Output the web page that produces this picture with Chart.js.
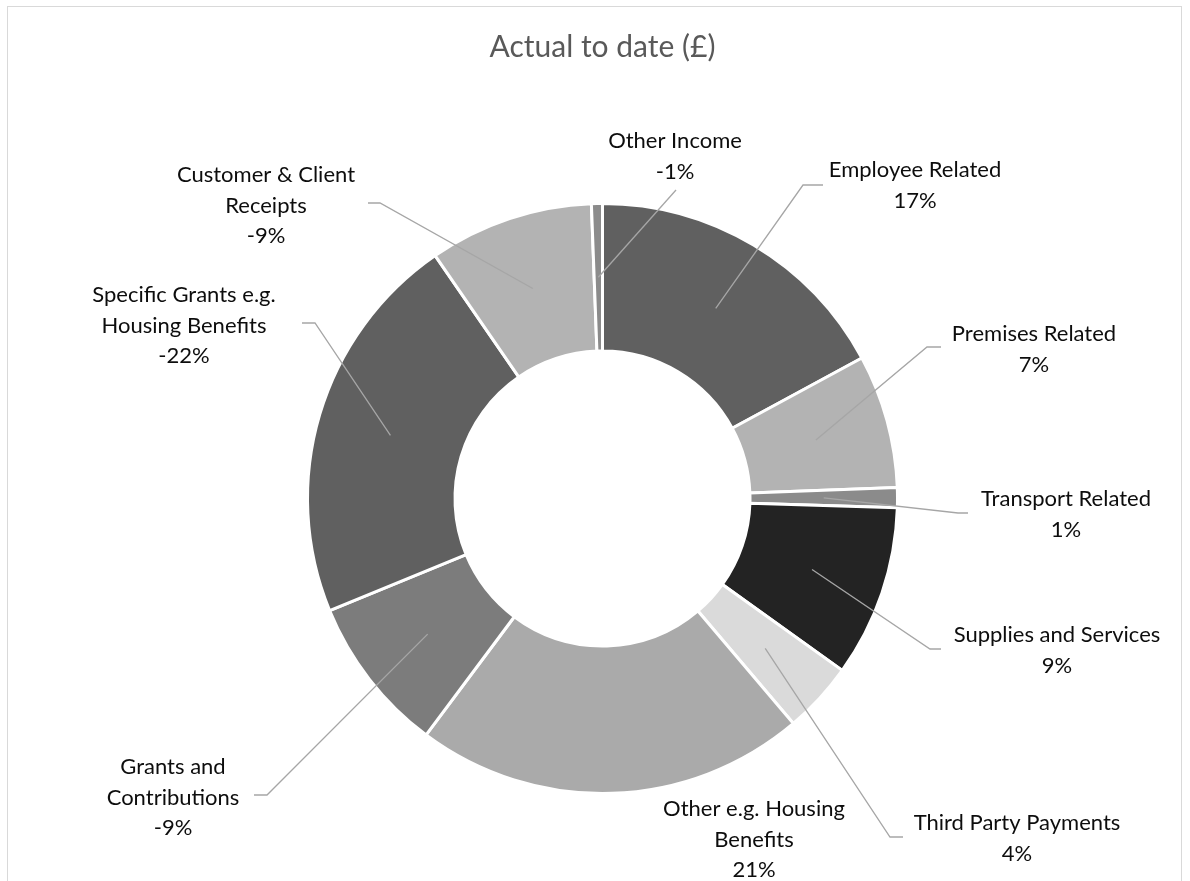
<!DOCTYPE html>
<html>
<head>
<meta charset="utf-8">
<title>Actual to date (£)</title>
<script src="https://cdn.jsdelivr.net/npm/chart.js@4.4.1/dist/chart.umd.min.js"></script>
<style>
  html, body { margin: 0; padding: 0; background: #fff; }
  #wrap { position: relative; width: 1190px; height: 881px; overflow: hidden; }
  #frame { position: absolute; left: 7px; top: 6px; width: 1173px; height: 900px; border: 1px solid #d9d9d9; pointer-events: none; }
  canvas { position: absolute; left: 0; top: 0; }
</style>
</head>
<body>
<div id="wrap">
  <canvas id="graficoRosca" width="1190" height="881"></canvas>
  <div id="frame"></div>
</div>
<script>
// Categorias e valores (percentual do total, negativos = receitas)
const categorias = [
  'Employee Related', 'Premises Related', 'Transport Related', 'Supplies and Services',
  'Third Party Payments', 'Other e.g. Housing Benefits', 'Grants and Contributions',
  'Specific Grants e.g. Housing Benefits', 'Customer & Client Receipts', 'Other Income'
];
const valores = [17.1, 7.3, 1.1, 9.4, 3.9, 21.4, -8.6, -21.6, -9.0, -0.6];

// Quebras de linha dos rótulos
const linhasRotulo = [
  ['Employee Related'],
  ['Premises Related'],
  ['Transport Related'],
  ['Supplies and Services'],
  ['Third Party Payments'],
  ['Other e.g. Housing', 'Benefits'],
  ['Grants and', 'Contributions'],
  ['Specific Grants e.g.', 'Housing Benefits'],
  ['Customer & Client', 'Receipts'],
  ['Other Income']
];

const coresFatias = [
  '#606060', '#b3b3b3', '#8b8b8b', '#232323', '#dadada',
  '#aaaaaa', '#7c7c7c', '#606060', '#b3b3b3', '#8b8b8b'
];

// Posição dos rótulos: centro x, y da primeira linha, linha guia [cotovelo x, fim x, y]
const posRotulos = [
  { x: 915, y: 169, guia: [803, 823, 185] },
  { x: 1034, y: 333, guia: [927, 941, 347] },
  { x: 1066, y: 498, guia: [958, 968, 513] },
  { x: 1057, y: 634, guia: [930, 941, 649] },
  { x: 1017, y: 822, guia: [890, 903, 837] },
  { x: 754, y: 808, guia: null },
  { x: 173, y: 766, guia: [267, 254, 795] },
  { x: 184, y: 294, guia: [315, 302, 323] },
  { x: 266, y: 174, guia: [380, 368, 203] },
  { x: 675, y: 140, guia: [676, 676, 190] }
];

const total = valores.reduce((s, v) => s + Math.abs(v), 0);
const percentual = v => (v < 0 ? '-' : '') + Math.round(Math.abs(v) / total * 100) + '%';

// Rótulos com linhas guia
const pluginRotulos = {
  id: 'rotulos',
  afterDatasetsDraw(chart) {
    const ctx = chart.ctx;
    const arcos = chart.getDatasetMeta(0).data;
    ctx.save();
    ctx.strokeStyle = '#a6a6a6';
    ctx.lineWidth = 1.3;
    arcos.forEach((arco, i) => {
      const p = posRotulos[i];
      if (!p.guia) return;
      const inicio = arco.tooltipPosition();
      const [cx, fx, gy] = p.guia;
      ctx.beginPath();
      ctx.moveTo(inicio.x, inicio.y);
      ctx.lineTo(cx, gy);
      if (fx !== cx) ctx.lineTo(fx, gy);
      ctx.stroke();
    });

    ctx.fillStyle = '#0d0d0d';
    ctx.font = '22px Lato';
    ctx.textAlign = 'center';
    ctx.textBaseline = 'alphabetic';
    const entreLinhas = 30.5;
    posRotulos.forEach((p, i) => {
      const linhas = linhasRotulo[i].concat([percentual(valores[i])]);
      linhas.forEach((txt, j) => {
        ctx.fillText(txt, p.x, p.y + 8 + j * entreLinhas);
      });
    });
    ctx.restore();
  }
};

new Chart(document.getElementById('graficoRosca'), {
  type: 'doughnut',
  data: {
    labels: categorias,
    datasets: [{
      data: valores.map(v => Math.abs(v)),
      backgroundColor: coresFatias,
      borderColor: '#ffffff',
      borderWidth: 3,
      hoverOffset: 0
    }]
  },
  options: {
    responsive: false,
    animation: false,
    cutout: '50%',
    layout: { padding: { left: 306, right: 291, top: 0, bottom: 86 } },
    plugins: {
      legend: { display: false },
      tooltip: { enabled: false },
      title: {
        display: true,
        text: 'Actual to date (£)',
        color: '#595959',
        font: { family: 'Lato', size: 30, weight: 'normal' },
        padding: { top: 29, bottom: 137 }
      }
    }
  },
  plugins: [pluginRotulos]
});
</script>
</body>
</html>
